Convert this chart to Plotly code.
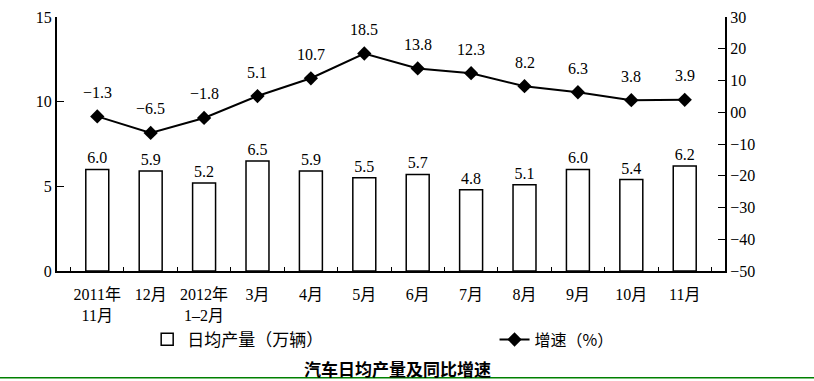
import plotly.graph_objects as go

categories = ["2011年<br>11月", "12月", "2012年<br>1–2月", "3月", "4月", "5月", "6月", "7月", "8月", "9月", "10月", "11月"]
daily_output = [6.0, 5.9, 5.2, 6.5, 5.9, 5.5, 5.7, 4.8, 5.1, 6.0, 5.4, 6.2]
growth = [-1.3, -6.5, -1.8, 5.1, 10.7, 18.5, 13.8, 12.3, 8.2, 6.3, 3.8, 3.9]
left_ticks = [0, 5, 10, 15]
right_ticks = [-50, -40, -30, -20, -10, 0, 10, 20, 30]
right_ticktext = ["−50", "−40", "−30", "−20", "−10", "00", "10", "20", "30"]

serif = "Liberation Serif, DejaVu Serif, Noto Sans CJK SC, serif"
cjk = "Noto Sans CJK SC, sans-serif"

fig = go.Figure()
fig.add_trace(go.Bar(
    x=categories, y=daily_output, name="日均产量（万辆）", legend="legend",
    marker=dict(color="white", line=dict(color="black", width=1.5)),
    width=0.43,
    text=[f"{v:.1f}" for v in daily_output], textposition="outside",
    textfont=dict(family=serif, size=16, color="black"),
    cliponaxis=False,
))
fig.add_trace(go.Scatter(
    x=categories, y=growth, name="增速（%）", yaxis="y2", legend="legend2",
    mode="lines+markers",
    line=dict(color="black", width=2),
    marker=dict(symbol="diamond", size=11, color="black"),
    cliponaxis=False,
))

annotations = [dict(x=c, y=v, xref="x", yref="y2", text=f"{v:.1f}".replace("-", "−"),
                    showarrow=False, yshift=24,
                    font=dict(family=serif, size=16, color="black"))
               for c, v in zip(categories, growth)]
annotations.append(dict(text="<b>汽车日均产量及同比增速</b>", x=0.51, y=-0.383,
                        xref="paper", yref="paper", showarrow=False, yanchor="middle",
                        font=dict(family=cjk, size=17, color="black")))

legend_common = dict(orientation="h", yanchor="middle", xanchor="left",
                     bgcolor="rgba(0,0,0,0)")

fig.update_layout(
    width=814, height=381,
    margin=dict(l=57, r=89, t=17, b=110, autoexpand=False),
    paper_bgcolor="white", plot_bgcolor="white",
    showlegend=True,
    legend=dict(x=0.135, y=-0.27, font=dict(family=cjk, size=17, color="black"), **legend_common),
    legend2=dict(x=0.655, y=-0.27, font=dict(family=cjk, size=16, color="black"), **legend_common),
    xaxis=dict(type="category", showline=True, linecolor="black", linewidth=2,
               ticks="inside", tickson="boundaries", ticklen=4, tickcolor="black",
               tickangle=0, automargin=False, ticklabelstandoff=8,
               tickfont=dict(family=serif, size=16, color="black"),
               showgrid=False, zeroline=False, mirror=False),
    yaxis=dict(range=[0, 15], tickvals=left_ticks, showline=True, linecolor="black", linewidth=2,
               ticks="inside", ticklen=7, tickcolor="black", showgrid=False, zeroline=False,
               automargin=False,
               tickfont=dict(family=serif, size=16, color="black")),
    yaxis2=dict(range=[-50, 30], tickvals=right_ticks, ticktext=right_ticktext,
                overlaying="y", side="right", showline=True, linecolor="black", linewidth=2,
                ticks="inside", ticklen=7, tickcolor="black", showgrid=False, zeroline=False,
                automargin=False,
                tickfont=dict(family=serif, size=16, color="black")),
    annotations=annotations,
    shapes=[dict(type="line", xref="paper", yref="paper", x0=-0.09, x1=1.14,
                 y0=-0.42, y1=-0.42, line=dict(color="green", width=1.5))],
)

fig.write_html("out.html", config={"displayModeBar": False},
               post_script="document.body.style.margin='0';document.body.style.overflow='hidden';")
